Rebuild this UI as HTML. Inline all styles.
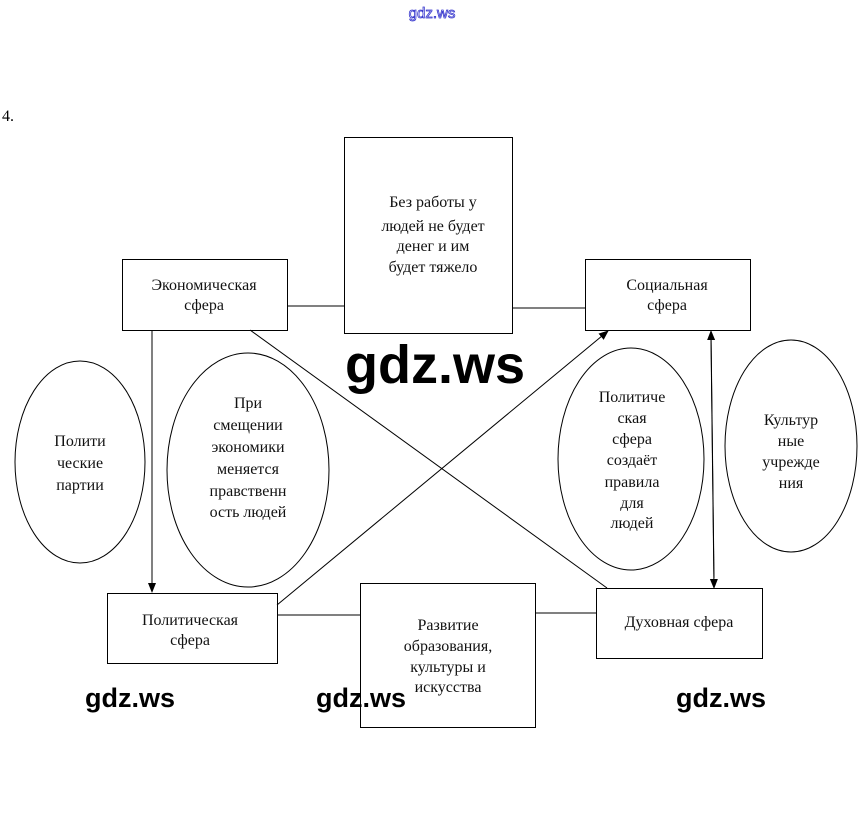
<!DOCTYPE html>
<html><head><meta charset="utf-8"><style>
body{margin:0;background:#fff;width:864px;height:840px;overflow:hidden}
svg{display:block}
.s{font-family:"Liberation Serif","DejaVu Serif",serif;font-size:16px;fill:#111;text-anchor:middle}
.w{font-family:"Liberation Sans","DejaVu Sans",sans-serif;font-weight:bold;fill:#000}
</style></head><body>
<svg width="864" height="840" viewBox="0 0 864 840">
<defs><marker id="a" markerWidth="10" markerHeight="10" refX="9" refY="5" orient="auto" markerUnits="userSpaceOnUse"><path d="M0,1 L10,5 L0,9z" fill="#000"/></marker></defs>
<text x="432" y="18" font-family="Liberation Sans,sans-serif" font-size="15" fill="#fff" stroke="#3333cc" stroke-width="0.8" text-anchor="middle">gdz.ws</text>
<text x="2" y="121" font-family="Liberation Serif,serif" font-size="16" fill="#000">4.</text>
<g fill="none" stroke="#000" stroke-width="1">
<rect x="122.5" y="259.5" width="165" height="71"/>
<rect x="344.5" y="137.5" width="168" height="196"/>
<rect x="585.5" y="259.5" width="165" height="71"/>
<rect x="107.5" y="593.5" width="170" height="70"/>
<rect x="360.5" y="583.5" width="175" height="144"/>
<rect x="596.5" y="588.5" width="166" height="70"/>
<ellipse cx="80" cy="462" rx="65" ry="101"/>
<ellipse cx="248" cy="470" rx="81" ry="117"/>
<ellipse cx="631" cy="459" rx="73" ry="111"/>
<ellipse cx="791" cy="446" rx="66" ry="106"/>
<line x1="287" y1="306" x2="344" y2="306"/>
<line x1="512" y1="308" x2="585" y2="308"/>
<line x1="277" y1="615" x2="360" y2="615"/>
<line x1="535" y1="613" x2="596" y2="613"/>
<line x1="152" y1="330" x2="152" y2="592" marker-end="url(#a)"/>
<line x1="711" y1="340" x2="714" y2="588" marker-end="url(#a)"/>
<line x1="714" y1="578" x2="711" y2="331" marker-end="url(#a)"/>
<line x1="250" y1="330" x2="607" y2="588"/>
<line x1="277" y1="605" x2="608" y2="331" marker-end="url(#a)"/>
</g>
<text class="s"><tspan x="204" y="290">Экономическая</tspan><tspan x="204" y="310">сфера</tspan></text>
<text class="s"><tspan x="433" y="207">Без работы у</tspan><tspan x="433" y="231">людей не будет</tspan><tspan x="433" y="251">денег и им</tspan><tspan x="433" y="272">будет тяжело</tspan></text>
<text class="s"><tspan x="667" y="290">Социальная</tspan><tspan x="667" y="310">сфера</tspan></text>
<text class="s"><tspan x="80" y="446">Полити</tspan><tspan x="80" y="468">ческие</tspan><tspan x="80" y="490">партии</tspan></text>
<text class="s"><tspan x="248" y="408">При</tspan><tspan x="248" y="430">смещении</tspan><tspan x="248" y="452">экономики</tspan><tspan x="248" y="474">меняется</tspan><tspan x="248" y="496">правственн</tspan><tspan x="248" y="517">ость людей</tspan></text>
<text class="s"><tspan x="632" y="402">Политиче</tspan><tspan x="632" y="423">ская</tspan><tspan x="632" y="444">сфера</tspan><tspan x="632" y="465">создаёт</tspan><tspan x="632" y="487">правила</tspan><tspan x="632" y="508">для</tspan><tspan x="632" y="528">людей</tspan></text>
<text class="s"><tspan x="791" y="425">Культур</tspan><tspan x="791" y="446">ные</tspan><tspan x="791" y="467">учрежде</tspan><tspan x="791" y="488">ния</tspan></text>
<text class="s"><tspan x="190" y="625">Политическая</tspan><tspan x="190" y="645">сфера</tspan></text>
<text class="s"><tspan x="448" y="630">Развитие</tspan><tspan x="448" y="651">образования,</tspan><tspan x="448" y="672">культуры и</tspan><tspan x="448" y="692">искусства</tspan></text>
<text class="s"><tspan x="679" y="627">Духовная сфера</tspan></text>
<text class="w" x="345" y="383" font-size="54">gdz.ws</text>
<text class="w" x="85" y="707" font-size="27">gdz.ws</text>
<text class="w" x="316" y="707" font-size="27">gdz.ws</text>
<text class="w" x="676" y="707" font-size="27">gdz.ws</text>
</svg>
</body></html>
